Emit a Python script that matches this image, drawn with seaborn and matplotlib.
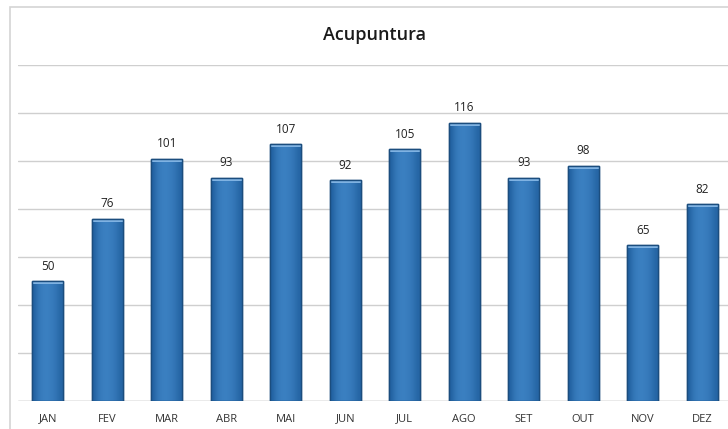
import matplotlib
matplotlib.use("Agg")
import matplotlib.pyplot as plt
from matplotlib.patches import Rectangle
import numpy as np
import pandas as pd
import seaborn as sns

months = ["JAN", "FEV", "MAR", "ABR", "MAI", "JUN", "JUL", "AGO", "SET", "OUT", "NOV", "DEZ"]
sessions = [50, 76, 101, 93, 107, 92, 105, 116, 93, 98, 65, 82]
title = "Acupuntura"

df = pd.DataFrame({"mes": months, "valor": sessions})

sns.set_theme(style="white")
plt.rcParams["font.family"] = ["Open Sans", "DejaVu Sans"]

W, H = 728, 429
fig = plt.figure(figsize=(W / 100, H / 100), dpi=100)
fig.patch.set_facecolor("white")

# chart border (cut off on the right like the screenshot)
fig.patches.append(Rectangle((10 / W, -0.1), 1.2, (H - 7) / H + 0.1,
                             transform=fig.transFigure, fill=False,
                             edgecolor="#d4d4d4", linewidth=1.2, zorder=0))

ax = fig.add_axes([18 / W, 28 / H, (732 - 18) / W, (401 - 65) / H])
sns.barplot(data=df, x="mes", y="valor", color="#2e74b5", width=0.52,
            edgecolor="#1b4d7e", linewidth=1.0, ax=ax, zorder=3, saturation=1)

ax.set_ylim(0, 140)
ax.set_xlim(-0.5, len(months) - 0.5)
ax.set_yticks(np.arange(0, 141, 20))
ax.yaxis.grid(True, color="#cfcfcf", linewidth=1.0)
ax.set_axisbelow(True)
ax.tick_params(axis="y", left=False, labelleft=False)
ax.tick_params(axis="x", length=0, pad=9, labelsize=8, labelcolor="#333333")
ax.set_xlabel("")
ax.set_ylabel("")
for s in ax.spines.values():
    s.set_visible(False)
ax.axhline(0, color="#bdbdbd", linewidth=1.0, zorder=2)

# horizontal gradient inside each bar
grad = np.array([[0.0, 0.6, 0.9, 1.0, 0.95, 0.8, 0.55, 0.15]])
cmap = matplotlib.colors.LinearSegmentedColormap.from_list("bar", ["#21609f", "#3b80c1"])
for patch in ax.patches:
    x0, y0 = patch.get_x(), patch.get_y()
    w, h = patch.get_width(), patch.get_height()
    im = ax.imshow(grad, cmap=cmap, aspect="auto", extent=(x0, x0 + w, y0, y0 + h),
                   zorder=3.5, interpolation="bicubic")
    im.set_clip_path(patch)
    # light bevel on top
    ax.add_patch(Rectangle((x0, y0 + h - 1.3), w, 1.3, facecolor="#7fb2e2",
                           edgecolor="none", zorder=3.6))
    ax.add_patch(Rectangle((x0, y0), w, h, fill=False, edgecolor="#1b4d7e",
                           linewidth=1.0, zorder=3.7))
ax.set_xlim(-0.5, len(months) - 0.5)
ax.set_ylim(0, 140)

for i, v in enumerate(sessions):
    ax.annotate(str(v), (i, v), xytext=(0, 6), textcoords="offset points",
                ha="center", va="bottom", fontsize=8.5, color="#222222")

fig.text(375 / W, (H - 35) / H, title, ha="center", va="center",
         fontsize=13, fontweight="semibold", color="#1a1a1a")

fig.savefig("out.png", dpi=100)
